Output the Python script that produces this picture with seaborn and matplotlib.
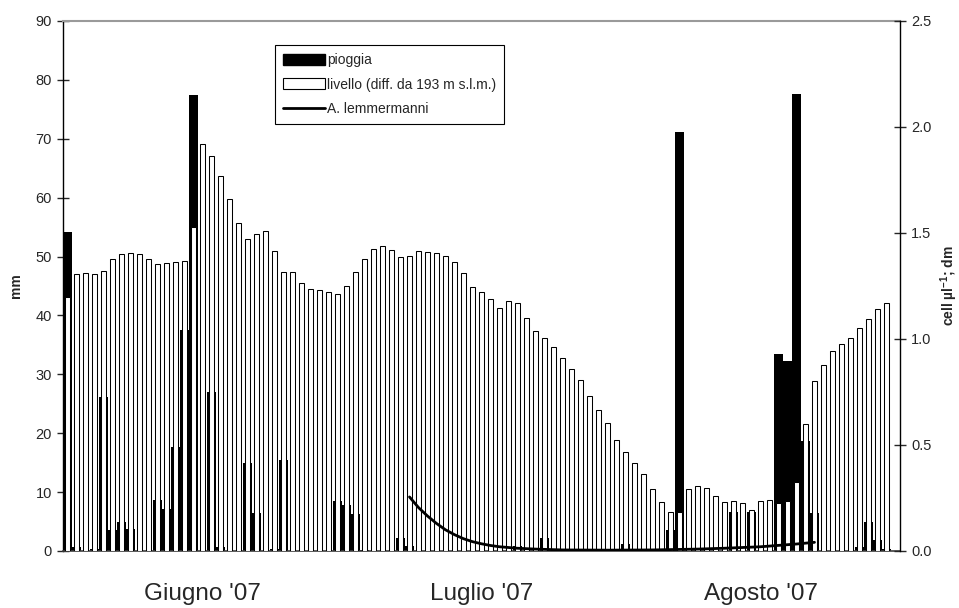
import numpy as np
import pandas as pd
import matplotlib
matplotlib.use('Agg')
import matplotlib.pyplot as plt
import seaborn as sns
from matplotlib.patches import Patch
from matplotlib.lines import Line2D
from matplotlib import font_manager

# ---------------- data ----------------
n_categories = 93
days = list(range(92))
pioggia = [54.2, 0.7, 0.0, 0.4, 26.2, 3.6, 5.0, 3.8, 0.0, 0.0,
           8.6, 7.2, 17.6, 37.6, 77.4, 0.0, 27.0, 0.7, 0.0, 0.0,
           14.9, 6.5, 0.0, 0.3, 15.4, 0.0, 0.0, 0.0, 0.0, 0.0,
           8.5, 7.8, 6.2, 0.2, 0.0, 0.0, 0.0, 2.2, 0.9, 0.0,
           0.0, 0.0, 0.0, 0.0, 0.0, 0.0, 0.0, 0.0, 0.0, 0.0,
           0.9, 0.0, 0.0, 2.2, 0.0, 0.0, 0.0, 0.0, 0.0, 0.0,
           0.0, 0.0, 1.2, 0.0, 0.0, 0.0, 0.0, 3.5, 71.2, 0.0,
           0.0, 0.0, 0.0, 0.0, 6.6, 0.0, 6.6, 0.0, 0.0, 33.5,
           32.3, 77.6, 18.6, 6.5, 0.0, 0.0, 0.0, 0.0, 0.7, 4.9,
           1.9, 0.3]
livello = [1.199, 1.308, 1.313, 1.305, 1.321, 1.377, 1.402, 1.404, 1.402, 1.377,
           1.352, 1.357, 1.365, 1.370, 1.526, 1.922, 1.864, 1.771, 1.662, 1.548,
           1.472, 1.494, 1.509, 1.414, 1.318, 1.318, 1.266, 1.234, 1.229, 1.221,
           1.212, 1.250, 1.316, 1.377, 1.425, 1.440, 1.421, 1.388, 1.390, 1.413,
           1.412, 1.404, 1.393, 1.362, 1.311, 1.247, 1.220, 1.187, 1.146, 1.178,
           1.168, 1.101, 1.039, 1.003, 0.964, 0.912, 0.858, 0.808, 0.733, 0.667,
           0.604, 0.525, 0.469, 0.413, 0.365, 0.292, 0.230, 0.186, 0.186, 0.292,
           0.305, 0.296, 0.261, 0.230, 0.234, 0.225, 0.195, 0.234, 0.241, 0.226,
           0.236, 0.325, 0.600, 0.800, 0.877, 0.945, 0.975, 1.004, 1.054, 1.096,
           1.143, 1.168]
lem_days = [38, 39, 40, 41, 42, 43, 44, 45, 46, 47, 48, 50, 52, 55, 60, 65, 70, 73, 77, 81, 83]
lem_vals = [0.255, 0.205, 0.165, 0.130, 0.100, 0.077, 0.058, 0.044, 0.034, 0.026,
            0.020, 0.013, 0.009, 0.005, 0.004, 0.005, 0.009, 0.013, 0.020, 0.033, 0.041]
month_labels = ["Giugno '07", "Luglio '07", "Agosto '07"]
month_len = 31
legend_labels = ["pioggia", "livello (diff. da 193 m s.l.m.)", "A. lemmermanni"]

# ---------------- style ----------------
sns.set_style('white')
plt.rcParams['font.family'] = ['Liberation Sans', 'DejaVu Sans']
plt.rcParams['mathtext.fontset'] = 'custom'
plt.rcParams['mathtext.rm'] = 'Liberation Sans'
plt.rcParams['mathtext.bf'] = 'Liberation Sans:bold'

names = {f.name for f in font_manager.fontManager.ttflist}
narrow = 'Liberation Sans Narrow' if 'Liberation Sans Narrow' in names else None

fig = plt.figure(figsize=(9.59, 6.08), dpi=100)
ax1 = fig.add_axes([63/959, 1-551/608, 837/959, 530/608])
ax2 = ax1.twinx()

df = pd.DataFrame({'day': days, 'pioggia': pioggia, 'livello': livello})
order = list(range(n_categories))

sns.barplot(data=df, x='day', y='pioggia', order=order, color='black', saturation=1,
            width=0.92, errorbar=None, ax=ax1, edgecolor='black', linewidth=0)
sns.barplot(data=df, x='day', y='livello', order=order, color='white', saturation=1,
            width=0.48, errorbar=None, ax=ax2, edgecolor='black', linewidth=0.75)
sns.lineplot(x=lem_days, y=lem_vals, ax=ax2, color='black', linewidth=2.0, zorder=5)

# ---------------- axes ----------------
ax1.set_xlim(-0.5, n_categories - 0.5)
ax1.set_ylim(0, 90)
ax2.set_ylim(0, 2.5)
ax1.set_yticks(np.arange(0, 91, 10))
ax2.set_yticks(np.arange(0, 2.51, 0.5))
ax2.set_yticklabels([f"{v:.1f}" for v in np.arange(0, 2.51, 0.5)])

major = [-0.5 + month_len * k for k in range(4)]
centers = [-0.5 + month_len * k + month_len / 2 for k in range(3)]
ax1.set_xticks(major)
ax1.set_xticklabels([''] * 4)
ax1.set_xticks(centers, minor=True)
mfam = [narrow, 'Liberation Sans'] if narrow else ['Liberation Sans']
ax1.set_xticklabels(month_labels, minor=True, fontsize=20 if narrow else 17.5, family=mfam)
ax1.tick_params(axis='x', which='major', direction='out', length=5, width=1, color='#404040')
ax1.tick_params(axis='x', which='minor', length=0, pad=23)

ax1.tick_params(axis='y', direction='inout', length=8, width=1, labelsize=10.5, pad=4, left=True)
ax2.tick_params(axis='y', direction='inout', length=8, width=1, labelsize=10.5, pad=4, right=True)

ax1.set_xlabel('')
ax2.set_xlabel('')
ax1.set_ylabel('mm', fontsize=10, fontweight='bold', labelpad=9)
ax2.set_ylabel(r'cell µl$^{\mathbf{-1}}$; dm', fontsize=10, fontweight='bold', labelpad=5)

for ax in (ax1, ax2):
    for s in ax.spines.values():
        s.set_visible(False)
ax1.spines['left'].set_visible(True)
ax1.spines['left'].set_color('black')
ax1.spines['left'].set_linewidth(1)
ax1.spines['bottom'].set_visible(True)
ax1.spines['bottom'].set_color('#404040')
ax1.spines['bottom'].set_linewidth(1.2)
ax1.spines['top'].set_visible(True)
ax1.spines['top'].set_color('#9a9a9a')
ax1.spines['top'].set_linewidth(1.5)
ax2.spines['right'].set_visible(True)
ax2.spines['right'].set_color('black')
ax2.spines['right'].set_linewidth(1)
ax1.grid(False)
ax2.grid(False)

# ---------------- legend ----------------
handles = [Patch(facecolor='black', edgecolor='black'),
           Patch(facecolor='white', edgecolor='black', linewidth=0.8),
           Line2D([0], [0], color='black', linewidth=2)]
leg = ax2.legend(handles, legend_labels, loc='upper left', bbox_to_anchor=(0.253, 0.955),
                 fontsize=10, frameon=True, fancybox=False, framealpha=1,
                 edgecolor='black', handlelength=3.0, handleheight=0.85,
                 handletextpad=0.15, labelspacing=0.75, borderpad=0.6, borderaxespad=0)
leg.get_frame().set_linewidth(0.8)

fig.savefig('out.png', dpi=100)
